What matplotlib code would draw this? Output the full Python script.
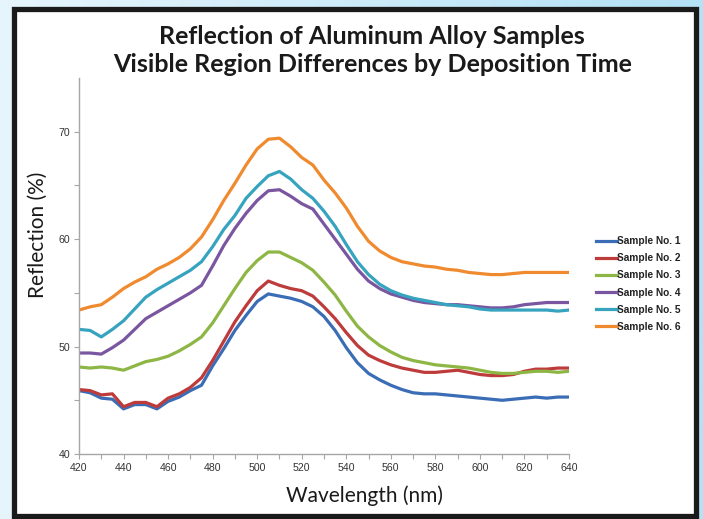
import matplotlib.pyplot as plt
import matplotlib.patches as patches
import numpy as np

# wavelength grid (nm) and reflection values (%)
wavelength = [420, 425, 430, 435, 440, 445, 450, 455, 460, 465, 470, 475, 480, 485, 490,
              495, 500, 505, 510, 515, 520, 525, 530, 535, 540, 545, 550, 555, 560, 565,
              570, 575, 580, 585, 590, 595, 600, 605, 610, 615, 620, 625, 630, 635, 640]

sample1 = [45.9, 45.7, 45.2, 45.1, 44.2, 44.6, 44.6, 44.2, 44.9, 45.3, 45.9, 46.4, 48.2, 49.8, 51.5,
           52.9, 54.2, 54.9, 54.7, 54.5, 54.2, 53.7, 52.8, 51.5, 49.9, 48.5, 47.5, 46.9, 46.4, 46.0,
           45.7, 45.6, 45.6, 45.5, 45.4, 45.3, 45.2, 45.1, 45.0, 45.1, 45.2, 45.3, 45.2, 45.3, 45.3]
sample2 = [46.0, 45.9, 45.5, 45.6, 44.4, 44.8, 44.8, 44.4, 45.2, 45.6, 46.2, 47.1, 48.7, 50.5, 52.3,
           53.8, 55.2, 56.1, 55.7, 55.4, 55.2, 54.7, 53.7, 52.6, 51.3, 50.1, 49.2, 48.7, 48.3, 48.0,
           47.8, 47.6, 47.6, 47.7, 47.8, 47.6, 47.4, 47.3, 47.3, 47.4, 47.7, 47.9, 47.9, 48.0, 48.0]
sample3 = [48.1, 48.0, 48.1, 48.0, 47.8, 48.2, 48.6, 48.8, 49.1, 49.6, 50.2, 50.9, 52.2, 53.8, 55.4,
           56.9, 58.0, 58.8, 58.8, 58.3, 57.8, 57.1, 56.0, 54.8, 53.3, 51.9, 50.9, 50.1, 49.5, 49.0,
           48.7, 48.5, 48.3, 48.2, 48.1, 48.0, 47.8, 47.6, 47.5, 47.5, 47.6, 47.7, 47.7, 47.6, 47.7]
sample4 = [49.4, 49.4, 49.3, 49.9, 50.6, 51.6, 52.6, 53.2, 53.8, 54.4, 55.0, 55.7, 57.5, 59.4, 61.0,
           62.4, 63.6, 64.5, 64.6, 64.0, 63.3, 62.8, 61.4, 60.0, 58.6, 57.2, 56.1, 55.4, 54.9, 54.6,
           54.3, 54.1, 54.0, 53.9, 53.9, 53.8, 53.7, 53.6, 53.6, 53.7, 53.9, 54.0, 54.1, 54.1, 54.1]
sample5 = [51.6, 51.5, 50.9, 51.6, 52.4, 53.5, 54.6, 55.3, 55.9, 56.5, 57.1, 57.9, 59.3, 60.9, 62.2,
           63.8, 64.9, 65.9, 66.3, 65.6, 64.6, 63.8, 62.6, 61.2, 59.5, 57.9, 56.7, 55.8, 55.2, 54.8,
           54.5, 54.3, 54.1, 53.9, 53.8, 53.7, 53.5, 53.4, 53.4, 53.4, 53.4, 53.4, 53.4, 53.3, 53.4]
sample6 = [53.4, 53.7, 53.9, 54.6, 55.4, 56.0, 56.5, 57.2, 57.7, 58.3, 59.1, 60.2, 61.8, 63.6, 65.2,
           66.9, 68.4, 69.3, 69.4, 68.6, 67.6, 66.9, 65.5, 64.3, 62.9, 61.2, 59.8, 58.9, 58.3, 57.9,
           57.7, 57.5, 57.4, 57.2, 57.1, 56.9, 56.8, 56.7, 56.7, 56.8, 56.9, 56.9, 56.9, 56.9, 56.9]

labels = ['Sample No. 1', 'Sample No. 2', 'Sample No. 3',
          'Sample No. 4', 'Sample No. 5', 'Sample No. 6']
colors = ['#3a6db5', '#be3b3b', '#8db644', '#7a56a0', '#36a3bf', '#f08a2e']
series = [sample1, sample2, sample3, sample4, sample5, sample6]

W, H = 703, 519
fig = plt.figure(figsize=(W / 100, H / 100), dpi=100)

# light blue gradient behind the white panel
bg = fig.add_axes([0, 0, 1, 1], zorder=-10)
grad = np.linspace(0, 1, 256).reshape(1, -1)
bg.imshow(grad, aspect='auto', extent=[0, 1, 0, 1],
          cmap=plt.matplotlib.colors.LinearSegmentedColormap.from_list('bgc', ['#e6f5fc', '#b3e1f6']))
bg.set_xlim(0, 1)
bg.set_ylim(0, 1)
bg.axis('off')
bg.add_patch(patches.Rectangle((13.5 / W, 1 - 515.5 / H), (696 - 13.5) / W, (515.5 - 8.5) / H,
                               facecolor='white', edgecolor='#1a1a1a', linewidth=3.8))

ax = fig.add_axes([79 / W, 1 - 454 / H, 490 / W, 376 / H])
for s, lab, c in zip(series, labels, colors):
    ax.plot(wavelength, s, color=c, linewidth=2.3, label=lab)

ax.set_xlim(420, 640)
ax.set_ylim(40, 75)
ax.set_xticks(range(420, 641, 20))
ax.set_xticks(range(430, 640, 20), minor=True)
ax.set_yticks([40, 50, 60, 70])
ax.set_yticks([45, 55, 65], minor=True)
for side in ['top', 'right']:
    ax.spines[side].set_visible(False)
for side in ['left', 'bottom']:
    ax.spines[side].set_color('#a6a6a6')
    ax.spines[side].set_linewidth(1.0)
ax.tick_params(which='both', direction='out', length=3.5, width=0.8, color='#a6a6a6',
               labelsize=7.6, labelcolor='#333333', pad=3)
for t in ax.get_xticklabels() + ax.get_yticklabels():
    t.set_fontfamily('Liberation Sans')
ax.patch.set_alpha(0)

fig.text(372 / W, 1 - 37 / H, 'Reflection of Aluminum Alloy Samples', ha='center', va='center',
         fontsize=18, fontweight='bold', family='Lato', color='#1a1a1a')
fig.text(373 / W, 1 - 65 / H, 'Visible Region Differences by Deposition Time', ha='center',
         va='center', fontsize=18, fontweight='bold', family='Lato', color='#1a1a1a')
fig.text(38 / W, 1 - 235 / H, 'Reflection (%)', rotation=90, ha='center', va='center',
         fontsize=15, family='Lato', color='#1a1a1a')
fig.text(364 / W, 1 - 496 / H, 'Wavelength (nm)', ha='center', va='center',
         fontsize=15, family='Lato', color='#1a1a1a')

leg = fig.legend(loc='center left', bbox_to_anchor=(591 / W, 1 - 284 / H), frameon=False,
                 prop={'family': 'Liberation Sans', 'weight': 'bold', 'size': 7.3},
                 handlelength=2.1, handletextpad=0.0, labelspacing=0.7, borderpad=0)
for t in leg.get_texts():
    t.set_color('#222222')

fig.savefig('out.png', dpi=100)
